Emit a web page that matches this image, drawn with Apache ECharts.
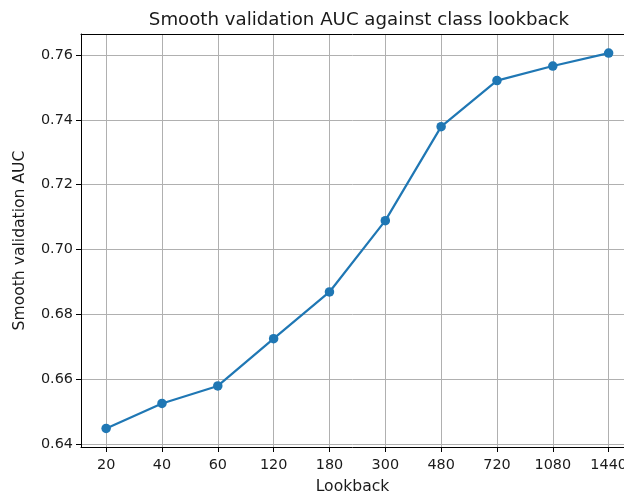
<!DOCTYPE html>
<html>
<head>
<meta charset="utf-8">
<script src="https://cdn.jsdelivr.net/npm/echarts@6/dist/echarts.min.js"></script>
<style>
  html, body { margin: 0; padding: 0; background: #fff; }
  #chart { width: 624px; height: 494px; }
</style>
</head>
<body>
<div id="chart"></div>
<script>
// Lookback windows (categorical, evenly spaced) and smoothed validation AUC
const lookbacks = ['20', '40', '60', '120', '180', '300', '480', '720', '1080', '1440'];
const aucValues = [0.6448, 0.6525, 0.6579, 0.6725, 0.6869, 0.7089, 0.7379, 0.7521, 0.7566, 0.7606];
const yTicks = [0.64, 0.66, 0.68, 0.70, 0.72, 0.74, 0.76];

const xPositions = lookbacks.map((_, i) => i);
const points = aucValues.map((v, i) => [i, v]);

const FONT = 'DejaVu Sans';
const TEXT = '#1a1a1a';
const GRID = '#b0b0b0';

// x extent: 5% margin on the left; the plot runs past the right edge of the canvas
const X_MIN = -0.45;
const X_MAX = 9.275;
const Y_MIN = 0.63907;
const Y_MAX = 0.76648;

const chart = echarts.init(document.getElementById('chart'), null, { renderer: 'canvas' });

chart.setOption({
  animation: false,
  backgroundColor: '#ffffff',
  title: {
    text: 'Smooth validation AUC against class lookback',
    left: 354,
    top: 6,
    textAlign: 'center',
    textStyle: { fontFamily: FONT, fontSize: 18.2, fontWeight: 'normal', color: TEXT }
  },
  grid: { left: 81, right: 0, top: 34, bottom: 47, outerBoundsMode: 'none' },
  xAxis: [{
    type: 'value',
    min: X_MIN,
    max: X_MAX,
    name: 'Lookback',
    nameLocation: 'middle',
    nameGap: 32,
    nameTextStyle: { fontFamily: FONT, fontSize: 15.6, color: TEXT },
    axisLine: { show: true, onZero: false, lineStyle: { color: '#000', width: 1 } },
    axisTick: { show: true, length: 5, customValues: xPositions, lineStyle: { color: '#000', width: 1 } },
    axisLabel: {
      customValues: xPositions,
      margin: 11,
      hideOverlap: false,
      fontFamily: FONT, fontSize: 14.4, color: TEXT,
      formatter: v => lookbacks[Math.round(v)]
    },
    splitLine: { show: true, customValues: xPositions, lineStyle: { color: GRID, width: 1 } }
  }, {
    // top frame line
    type: 'value',
    position: 'top',
    min: X_MIN,
    max: X_MAX,
    axisLine: { show: true, onZero: false, lineStyle: { color: '#000', width: 1 } },
    axisTick: { show: false },
    axisLabel: { show: false },
    splitLine: { show: false }
  }],
  yAxis: {
    type: 'value',
    min: Y_MIN,
    max: Y_MAX,
    name: 'Smooth validation AUC',
    nameLocation: 'middle',
    nameGap: 53,
    nameTextStyle: { fontFamily: FONT, fontSize: 15.6, color: TEXT },
    axisLine: { show: true, onZero: false, lineStyle: { color: '#000', width: 1 } },
    axisTick: { show: true, length: 5, customValues: yTicks, lineStyle: { color: '#000', width: 1 } },
    axisLabel: {
      customValues: yTicks,
      margin: 8,
      fontFamily: FONT, fontSize: 14.4, color: TEXT,
      formatter: v => v.toFixed(2)
    },
    splitLine: { show: true, customValues: yTicks, lineStyle: { color: GRID, width: 1 } }
  },
  series: [{
    type: 'line',
    xAxisIndex: 0,
    data: points,
    symbol: 'circle',
    symbolSize: 9.5,
    showAllSymbol: true,
    lineStyle: { color: '#1f77b4', width: 2.2 },
    itemStyle: { color: '#1f77b4' },
    z: 3
  }]
});
</script>
</body>
</html>
